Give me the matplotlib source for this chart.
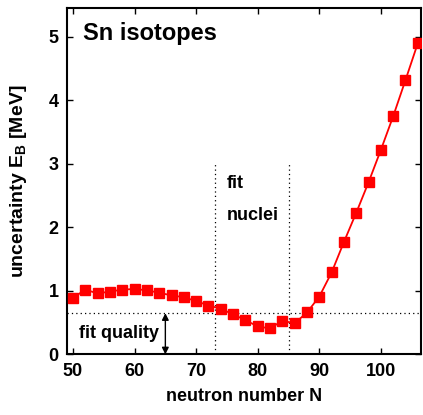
import numpy as np
import matplotlib
matplotlib.use("Agg")
from matplotlib import pyplot as plt

plt.rcParams['font.family'] = ['Liberation Sans', 'DejaVu Sans']
plt.rcParams['font.weight'] = 'bold'
plt.rcParams['mathtext.fontset'] = 'custom'
plt.rcParams['mathtext.rm'] = 'Liberation Sans:bold'
plt.rcParams['mathtext.bf'] = 'Liberation Sans:bold'
plt.rcParams['mathtext.it'] = 'Liberation Sans:bold'

# Sn isotopes, uncertainty of binding energy
N = [50, 52, 54, 56, 58, 60, 62, 64, 66, 68, 70, 72, 74, 76, 78,
     80, 82, 84, 86, 88, 90, 92, 94, 96, 98, 100, 102, 104, 106]
dEB = [0.89, 1.02, 0.96, 0.99, 1.02, 1.03, 1.01, 0.97, 0.93, 0.90, 0.84, 0.77, 0.72, 0.63, 0.54,
       0.44, 0.41, 0.53, 0.49, 0.66, 0.91, 1.29, 1.77, 2.23, 2.71, 3.22, 3.75, 4.32, 4.90]

fit_quality = 0.65
fit_lo, fit_hi = 73, 85
fit_top = 3.0
xticks = [50, 60, 70, 80, 90, 100]
yticks = [0, 1, 2, 3, 4, 5]

fig = plt.figure(figsize=(4.23, 4.15), dpi=100)
ax = fig.add_axes([0.158, 0.146, 0.837, 0.834])

ax.plot(N, dEB, '-s', color='red', lw=1.3, ms=6.5, mec='red', mfc='red', zorder=5)

ax.axhline(fit_quality, color='black', lw=0.9, ls=(0, (1, 2.5)))
ax.vlines([fit_lo, fit_hi], 0, fit_top, color='black', lw=0.9, linestyles=[(0, (1, 2.5))])

ax.annotate('', xy=(65, fit_quality), xytext=(65, 0),
            arrowprops=dict(arrowstyle='<|-|>', color='black', lw=1.0,
                            mutation_scale=10, shrinkA=0, shrinkB=0))
ax.text(51.0, 0.33, 'fit quality', fontsize=13, fontweight='bold', va='center', ha='left')
ax.text(75.0, 2.69, 'fit', fontsize=13, fontweight='bold', va='center', ha='left')
ax.text(75.0, 2.19, 'nuclei', fontsize=13, fontweight='bold', va='center', ha='left')
ax.text(51.6, 5.05, 'Sn isotopes', fontsize=17, fontweight='bold', va='center', ha='left')

ax.set_xlim(49, 106.5)
ax.set_ylim(0, 5.45)
ax.set_xticks(xticks)
ax.set_yticks(yticks)
ax.tick_params(direction='in', length=4, width=1, top=True, right=True,
               labelsize=13, pad=6)
for lbl in ax.get_xticklabels() + ax.get_yticklabels():
    lbl.set_fontweight('bold')
for s in ax.spines.values():
    s.set_linewidth(1.5)

ax.set_xlabel('neutron number N', fontsize=13, fontweight='bold', labelpad=6)
ax.set_ylabel(r'uncertainty E$_\mathregular{B}$ [MeV]', fontsize=14, fontweight='bold', labelpad=14)

fig.savefig('out.png', dpi=100)
